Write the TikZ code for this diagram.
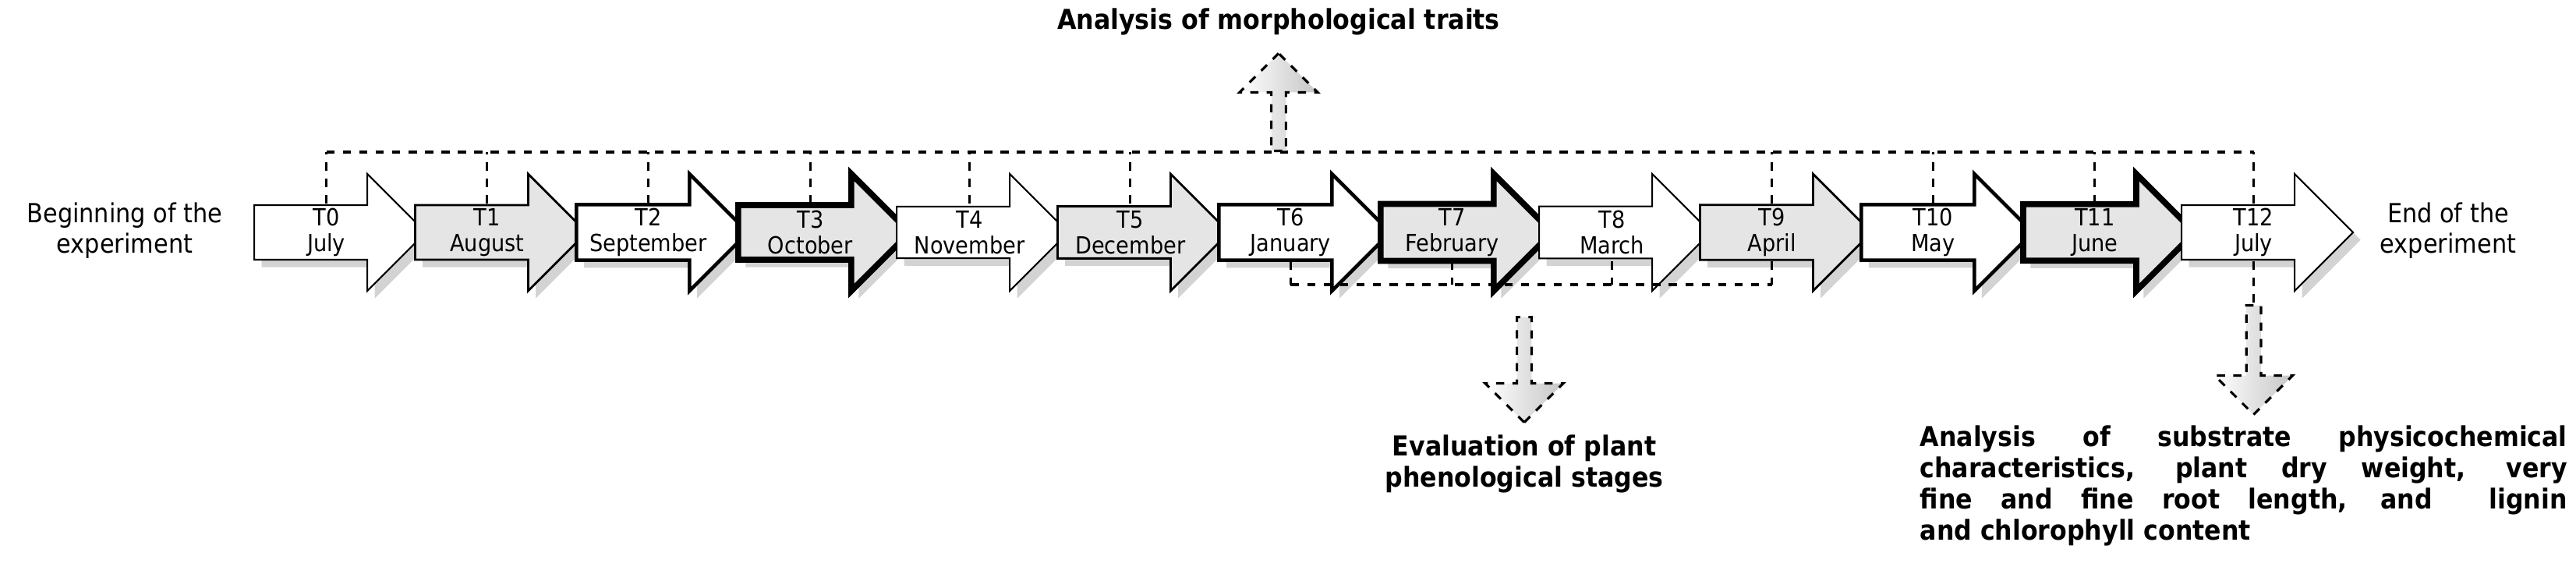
\documentclass[tikz,border=0pt]{standalone}
\usepackage{fontspec}
\setmainfont{DejaVu Sans Condensed}
\usetikzlibrary{shapes.arrows,shadows,calc}
\tikzset{
	month/.style={single arrow, draw=black, anchor=tail, minimum height=2.2cm,
		minimum width=1.5cm, single arrow head extend=0.385cm, inner sep=0.5pt,
		align=center, font=\fontsize{8.6}{9.4}\selectfont, drop shadow={opacity=0.35}},
	dashline/.style={dashed, line width=0.9pt},
	bigarrow/.style={single arrow, draw=black, dashed, line width=0.9pt,
		minimum width=1.0cm, single arrow head extend=0.22cm, inner sep=1pt,
		left color=white, right color=gray!45, anchor=tail},
	note/.style={font=\bfseries\fontsize{10}{11.4}\selectfont, align=center},
	side/.style={font=\fontsize{9.6}{11}\selectfont, align=center}
}
\begin{document}
\begin{tikzpicture}
	\useasboundingbox (0,0) rectangle (33.04,7.44);
	% Zeitschritte
	\foreach \i/\m/\f/\w in {0/July/white/0.6, 1/August/gray!20/0.8, 2/September/white/1.3, 3/October/gray!20/2.2,
		4/November/white/0.6, 5/December/gray!20/0.8, 6/January/white/1.3, 7/February/gray!20/2.2,
		8/March/white/0.6, 9/April/gray!20/0.8, 10/May/white/1.3, 11/June/gray!20/2.2, 12/July/white/0.6} {
		\node[month, fill=\f, line width=\w pt] (T\i) at (3.25+2.06*\i,4.46) {T\i\\\m};
	}
	\node[side] (begin) at (1.6,4.48) {Beginning of the\\experiment};
	\node[side] (end) at (31.4,4.48) {End of the\\experiment};
	% Morphologie (oben)
	\coordinate (top0) at ($(T0.center)+(0,1.03)$);
	\coordinate (top12) at ($(T12.center)+(0,1.03)$);
	\draw[dashline] (top0) -- (top12);
	\foreach \i in {0,1,2,3,4,5,9,10,11,12} {
		\draw[dashline] ($(T\i.center)+(0,0.37)$) -- (T\i.center |- top0);
	}
	\node[bigarrow, rotate=90, minimum height=1.25cm] (up) at (16.4,5.49) {};
	\node[note] (morph) at (16.4,7.16) {Analysis of morphological traits};
	% Phaenologie (unten)
	\coordinate (bot6) at ($(T6.center)-(0,0.67)$);
	\coordinate (bot9) at ($(T9.center)-(0,0.67)$);
	\draw[dashline] (bot6) -- (bot9);
	\foreach \i in {6,7,8,9} {
		\draw[dashline] ($(T\i.center)-(0,0.37)$) -- (T\i.center |- bot6);
	}
	\node[bigarrow, rotate=-90, minimum height=1.35cm] (down) at (19.55,3.39) {};
	\node[note] (pheno) at (19.55,1.49) {Evaluation of plant\\phenological stages};
	% Ende
	\coordinate (ex12) at ($(T12.center)-(0,0.92)$);
	\draw[dashline] ($(T12.center)-(0,0.37)$) -- (ex12);
	\node[bigarrow, rotate=-90, minimum height=1.4cm] (final) at (ex12) {};
	\node[note, align=justify, text width=8.3cm, anchor=north west, inner sep=0pt] (subst) at (24.62,1.99)
		{\hyphenpenalty=10000 Analysis of substrate physicochemical\linebreak characteristics, plant dry weight, very\linebreak fine and fine root length, and \ lignin\linebreak and chlorophyll content};
\end{tikzpicture}
\end{document}
